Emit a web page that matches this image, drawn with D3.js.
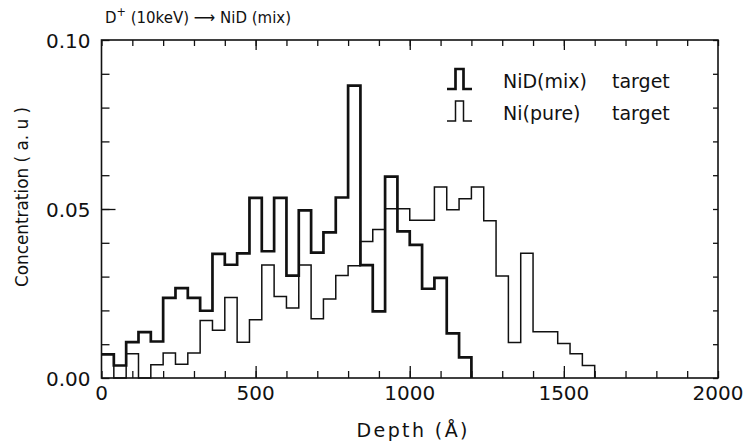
<!DOCTYPE html>
<html>
<head>
<meta charset="utf-8">
<script src="https://cdn.jsdelivr.net/npm/d3@7"></script>
<style>
  html, body { margin: 0; padding: 0; background: #fff; }
  svg { display: block; font-family: "DejaVu Sans", sans-serif; }
</style>
</head>
<body>
<svg id="chart" width="746" height="446"></svg>
<script>
'use strict';

/* global d3 */

// bin start depths (Angstrom), 40 A wide bins
var binStarts = [0, 40, 80, 120, 160, 200, 240, 280, 320, 360,
  400, 440, 480, 520, 560, 600, 640, 680, 720, 760,
  800, 840, 880, 920, 960, 1000, 1040, 1080, 1120, 1160,
  1200, 1240, 1280, 1320, 1360, 1400, 1440, 1480, 1520, 1560, 1600];

// NiD (mix) target - thick line
var mixValues = [0.0070, 0.0037, 0.0106, 0.0136, 0.0108, 0.0237, 0.0266, 0.0237, 0.0199, 0.0367,
  0.0335, 0.0369, 0.0533, 0.0375, 0.0533, 0.0303, 0.0496, 0.0371, 0.0431, 0.0534,
  0.0865, 0.0334, 0.0197, 0.0596, 0.0434, 0.0394, 0.0264, 0.0296, 0.0132, 0.0061,
  0];

// Ni (pure) target - thin line
var pureValues = [0.0070, 0, 0.0072, 0, 0.0039, 0.0074, 0.0041, 0.0074, 0.0170, 0.0141,
  0.0238, 0.0106, 0.0172, 0.0334, 0.0241, 0.0207, 0.0334, 0.0175, 0.0234, 0.0303,
  0.0332, 0.0404, 0.0439, 0.0501, 0.0501, 0.0467, 0.0467, 0.0565, 0.0498, 0.0530,
  0.0565, 0.0465, 0.0302, 0.0105, 0.0369, 0.0137, 0.0137, 0.0102, 0.0072, 0.0037,
  0];

var xTickLabels = [0, 500, 1000, 1500, 2000];
var yTickLabels = [0, 0.05, 0.10];
var xMajor = [500, 1000, 1500];
var yMajor = [0.05];

(function () {
  var ink = '#111';
  var svg = d3.select('#chart');
  var margins = { top: 40, right: 28, bottom: 68, left: 101.5 };
  var width = 746 - margins.left - margins.right;
  var height = 446 - margins.top - margins.bottom;

  var g = svg.append('g').attr('transform', 'translate(' + margins.left + ',' + margins.top + ')');

  var x = d3.scaleLinear().domain([0, 2000]).range([0, width]);
  var y = d3.scaleLinear().domain([0, 0.1]).range([height, 0]);

  // inward ticks on all four sides
  function ticks(axis, values, size, transform) {
    var a = g.append('g').attr('transform', transform || null)
      .call(axis.tickValues(values).tickSize(-size).tickFormat(''));
    a.select('.domain').remove();
    a.selectAll('line').attr('stroke', ink).attr('stroke-width', 1.3);
  }
  var xMinor = x.ticks(20);
  var yMinor = y.ticks(10);
  ticks(d3.axisBottom(x), xMinor, 7, 'translate(0,' + height + ')');
  ticks(d3.axisBottom(x), xMajor, 12, 'translate(0,' + height + ')');
  ticks(d3.axisTop(x), xMinor, 6);
  ticks(d3.axisTop(x), xMajor, 10);
  ticks(d3.axisLeft(y), yMinor, 8);
  ticks(d3.axisLeft(y), yMajor, 14);
  ticks(d3.axisRight(y), yMinor, 5, 'translate(' + width + ',0)');

  var line = d3.line().curve(d3.curveStepAfter)
    .x(function (d) { return x(d[0]); })
    .y(function (d) { return y(d[1]); });
  function pairs(values) {
    return values.map(function (v, i) { return [binStarts[i], v]; });
  }

  g.append('path').datum(pairs(pureValues)).attr('d', line)
    .attr('fill', 'none').attr('stroke', ink).attr('stroke-width', 1.5);
  g.append('path').datum(pairs(mixValues)).attr('d', line)
    .attr('fill', 'none').attr('stroke', ink).attr('stroke-width', 2.7)
    .attr('stroke-linejoin', 'miter');

  // frame
  g.append('rect').attr('width', width).attr('height', height)
    .attr('fill', 'none').attr('stroke', ink).attr('stroke-width', 1.6);

  // tick labels
  g.append('g').selectAll('text').data(xTickLabels).enter().append('text')
    .attr('x', function (d) { return x(d); }).attr('y', height + 22)
    .attr('text-anchor', 'middle').attr('font-size', 20).attr('fill', ink)
    .text(function (d) { return d; });
  g.append('g').selectAll('text').data(yTickLabels).enter().append('text')
    .attr('x', -11).attr('y', function (d) { return y(d) + 8; })
    .attr('text-anchor', 'end').attr('font-size', 20).attr('fill', ink)
    .text(d3.format('.2f'));

  // axis titles
  svg.append('text').attr('x', 412).attr('y', 437).attr('text-anchor', 'middle')
    .attr('font-size', 19).attr('fill', ink)
    .attr('textLength', 111).attr('lengthAdjust', 'spacing')
    .text('Depth  (\u00c5)');
  svg.append('text').attr('transform', 'translate(28,197) rotate(-90)')
    .attr('text-anchor', 'middle').attr('font-size', 18).attr('fill', ink)
    .attr('textLength', 180).attr('lengthAdjust', 'spacingAndGlyphs')
    .text('Concentration  ( a. u )');

  // title
  var title = svg.append('text').attr('x', 105).attr('y', 23)
    .attr('font-size', 16).attr('fill', ink)
    .attr('textLength', 186).attr('lengthAdjust', 'spacingAndGlyphs');
  title.append('tspan').text('D');
  title.append('tspan').attr('dy', -7).attr('font-size', 12).text('+');
  title.append('tspan').attr('dy', 7).text(' (10keV) \u27f6 NiD (mix)');

  // legend
  var legend = [
    { label: 'NiD(mix)', w: 2.7, base: 89, h: 20 },
    { label: 'Ni(pure)', w: 1.5, base: 121, h: 20 }
  ];
  var pulse = d3.line();
  var lg = svg.append('g');
  legend.forEach(function (d) {
    lg.append('path')
      .attr('d', pulse([[447, d.base], [455.5, d.base], [455.5, d.base - d.h],
        [463.5, d.base - d.h], [463.5, d.base], [472, d.base]]))
      .attr('fill', 'none').attr('stroke', ink).attr('stroke-width', d.w);
    lg.append('text').attr('x', 503).attr('y', d.base - 1).attr('font-size', 19)
      .attr('fill', ink).text(d.label);
    lg.append('text').attr('x', 612).attr('y', d.base - 1).attr('font-size', 19)
      .attr('fill', ink).text('target');
  });
})();
</script>
</body>
</html>
